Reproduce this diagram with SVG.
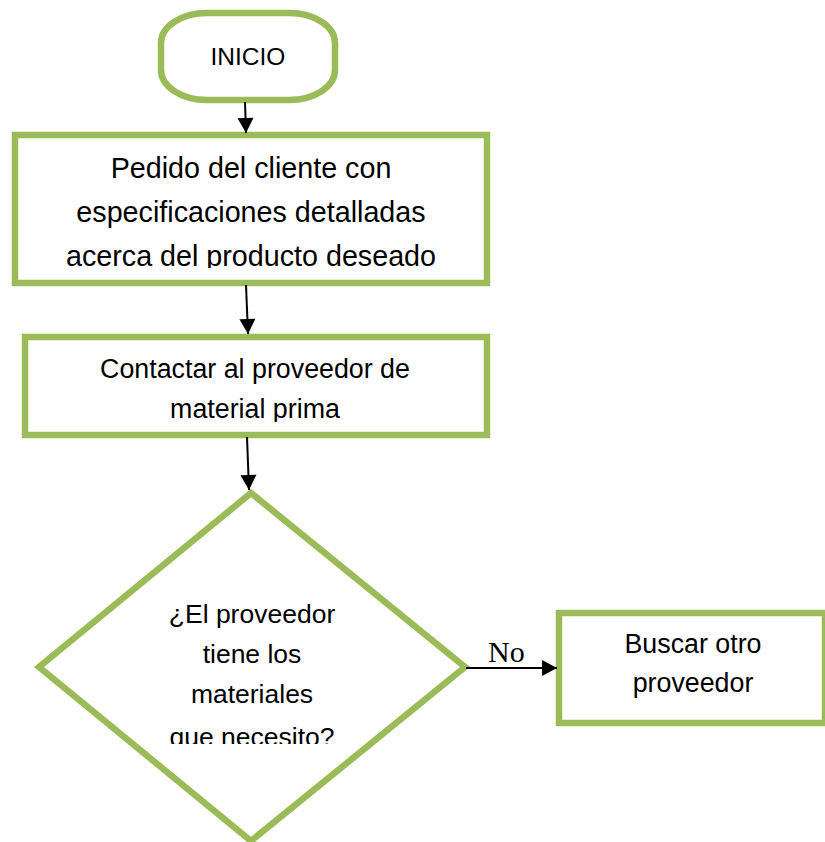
<svg xmlns="http://www.w3.org/2000/svg" width="825" height="842" viewBox="0 0 825 842">
<style>
.shape{fill:#FFFFFF;stroke:#9BBB59;stroke-width:6.5}
.t{font-family:"Liberation Sans",Arial,sans-serif;fill:#000;text-anchor:middle}
.conn{stroke:#000;stroke-width:2;fill:none}
.lbl{font-family:"Liberation Serif","Times New Roman",serif;fill:#000;font-size:30px}
</style>
<defs>
<marker id="ah" markerUnits="userSpaceOnUse" markerWidth="18" markerHeight="18" viewBox="0 0 18 18" refX="16" refY="9" orient="auto">
<path d="M1,1 L16,9 L1,17 z" fill="#000"/>
</marker>
<clipPath id="c1"><rect x="18" y="138" width="466" height="130"/></clipPath>
<clipPath id="c2"><rect x="28" y="340" width="456" height="82"/></clipPath>
<clipPath id="c3"><rect x="100" y="560" width="300" height="184"/></clipPath>
</defs>
<rect width="825" height="842" fill="#FFFFFF"/>
<g id="inicio">
<rect class="shape" x="161" y="13" width="174" height="87" rx="46" ry="30"/>
<text class="t" x="248" y="65" font-size="24.5">INICIO</text>
</g>
<g id="pedido">
<rect class="shape" x="15" y="135" width="472" height="148"/>
<g clip-path="url(#c1)">
<text class="t" x="251" y="178" font-size="28.7">Pedido del cliente con</text>
<text class="t" x="251" y="222" font-size="28.7">especificaciones detalladas</text>
<text class="t" x="251" y="266" font-size="28.7">acerca del producto deseado</text>
</g>
</g>
<g id="contactar">
<rect class="shape" x="25" y="337" width="462" height="98"/>
<g clip-path="url(#c2)">
<text class="t" x="255" y="378" font-size="26.8">Contactar al proveedor de</text>
<text class="t" x="255" y="418" font-size="26.8">material prima</text>
</g>
</g>
<g id="decision">
<polygon class="shape" points="251,493 465,667 251,841 39,667"/>
<g clip-path="url(#c3)">
<text class="t" x="252" y="623" font-size="26.5">¿El proveedor</text>
<text class="t" x="252" y="663" font-size="26.5">tiene los</text>
<text class="t" x="252" y="703" font-size="26.5">materiales</text>
<text class="t" x="252" y="746" font-size="26.5">que necesito?</text>
</g>
</g>
<g id="buscar">
<rect class="shape" x="559" y="613" width="266" height="110"/>
<text class="t" x="693" y="653" font-size="26.8">Buscar otro</text>
<text class="t" x="693" y="692" font-size="26.8">proveedor</text>
</g>
<g id="connectors">
<line class="conn" x1="245" y1="102" x2="246" y2="133" marker-end="url(#ah)"/>
<line class="conn" x1="246" y1="285" x2="248" y2="334" marker-end="url(#ah)"/>
<line class="conn" x1="247" y1="437" x2="249" y2="490" marker-end="url(#ah)"/>
<line class="conn" x1="466" y1="668" x2="557" y2="668" marker-end="url(#ah)"/>
<text class="lbl" x="488" y="662">No</text>
</g>
</svg>
